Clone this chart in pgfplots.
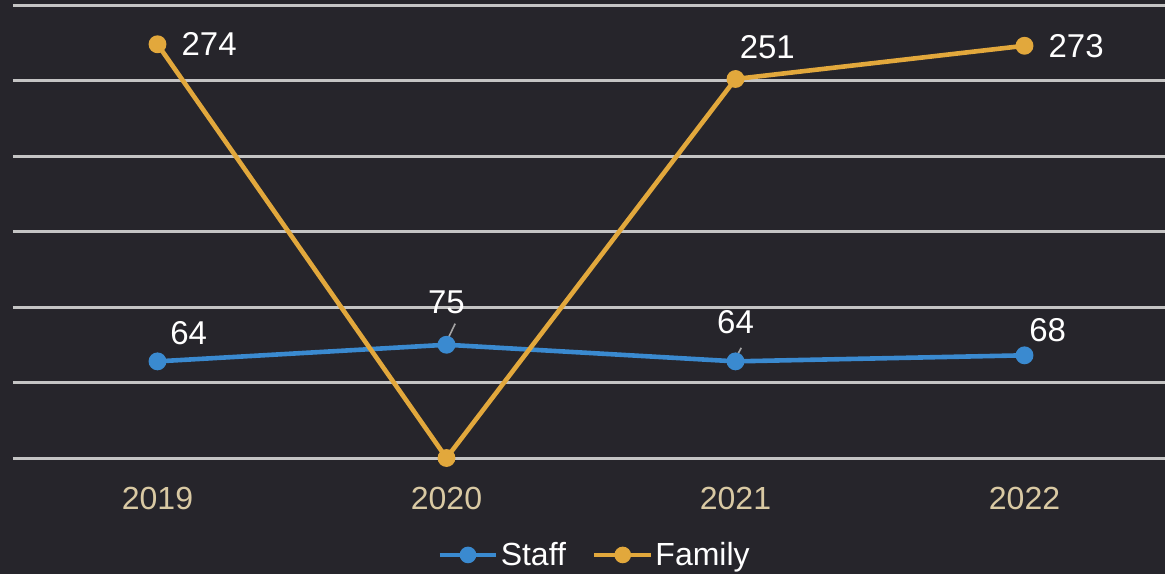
\documentclass[border=0pt]{standalone}
\usepackage{pgfplots}
\pgfplotsset{compat=1.18}
\usepackage{fontspec}
\setmainfont{Liberation Sans}
\definecolor{bg}{HTML}{26252B}
\definecolor{gridc}{HTML}{C4C4C4}
\definecolor{staffc}{HTML}{3A8AD0}
\definecolor{famc}{HTML}{E2A83C}
\definecolor{tickc}{HTML}{D9C9A3}
\begin{document}
\begin{tikzpicture}
\fill[bg, use as bounding box] (0,0) rectangle (582.5pt,287pt);
\begin{axis}[
  at={(6.5pt,58pt)}, anchor=south west,
  scale only axis, width=578pt, height=226.5pt,
  xmin=-0.5, xmax=3.5, ymin=0, ymax=300,
  axis line style={draw=none},
  xtick={0,1,2,3}, xticklabels={2019,2020,2021,2022},
  ytick={0,50,100,150,200,250,300}, yticklabels={},
  major tick length=0pt,
  ymajorgrids, grid style={gridc, line width=1.5pt},
  xticklabel style={font=\fontsize{16}{18}\selectfont, text=tickc, yshift=-11pt},
  clip=false,
  legend columns=2,
  legend style={at={(0.503,-0.214)}, anchor=center, draw=none, fill=none,
    text=white, font=\fontsize{16}{18}\selectfont,
    nodes={inner xsep=1pt},
    /tikz/every even column/.append style={column sep=12pt}},
  legend image code/.code={
    \draw[#1, line width=2.3pt] (0pt,0pt) -- (1.0cm,0pt);
    \fill[#1] (0.5cm,0pt) circle (3pt);
  },
]
\addplot[staffc, line width=2.3pt, mark=*, mark size=3.3pt, mark options={fill=staffc, draw=staffc}]
  coordinates {(0,64) (1,75) (2,64) (3,68)};
\addlegendentry{Staff}
\addplot[famc, line width=2.3pt, mark=*, mark size=3.3pt, mark options={fill=famc, draw=famc}]
  coordinates {(0,274) (1,0) (2,251) (3,273)};
\addlegendentry{Family}
\begin{scope}[every node/.style={text=white, font=\fontsize{16.5}{18}\selectfont, inner sep=1pt}]
\node[anchor=west] at (axis cs:0.075,274) {274};
\node[anchor=west] at (axis cs:3.075,273) {273};
\node at (axis cs:2.11,272) {251};
\node at (axis cs:0.108,83) {64};
\node at (axis cs:1.0,103) {75};
\node at (axis cs:2.0,90) {64};
\node at (axis cs:3.08,85) {68};
\draw[gray!70, line width=0.8pt] (axis cs:1.0,77) -- (axis cs:1.03,89);
\draw[gray!70, line width=0.8pt] (axis cs:2.0,66) -- (axis cs:2.02,73);
\end{scope}
\end{axis}
\end{tikzpicture}
\end{document}
